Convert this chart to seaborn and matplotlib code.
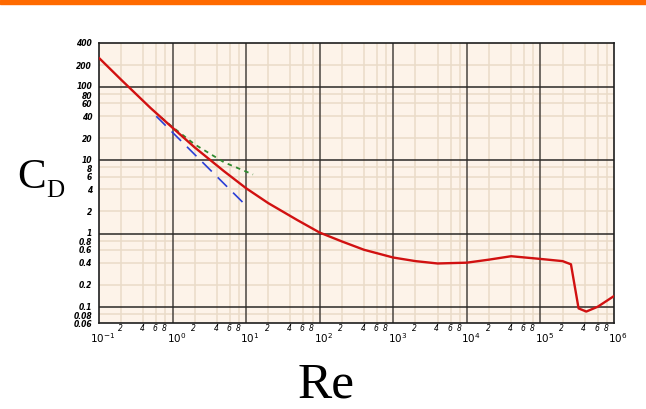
import matplotlib
matplotlib.use("Agg")
import matplotlib.pyplot as plt
import matplotlib.ticker as mticker
from matplotlib.patches import Rectangle
import matplotlib.transforms as mtransforms
import pandas as pd
import seaborn as sns

# drag coefficient of a sphere
re_drag = [0.1, 0.2, 0.5, 1, 2, 5, 10, 20, 50, 100, 200, 400, 1000, 2000,
           4000, 10000, 20000, 40000, 100000, 200000, 260000, 330000,
           420000, 600000, 1000000]
cd_drag = [250, 126, 52, 27.8, 15, 7.1, 4.15, 2.6, 1.52, 1.03, 0.78, 0.6, 0.47,
           0.42, 0.39, 0.40, 0.44, 0.49, 0.45, 0.42, 0.38, 0.095,
           0.086, 0.1, 0.14]

# Stokes law (blue dashed)
re_stokes = [0.6, 10]
cd_stokes = [40, 2.4]

# Oseen correction (green dotted)
re_oseen = [0.7, 1, 2, 5, 12.4]
cd_oseen = [38.3, 28.5, 16.5, 9.4, 6.4]

x_major = [0.1, 1, 10, 100, 1000, 10000, 100000, 1000000]
x_major_labels = [r"$\mathit{10^{-1}}$", r"$\mathit{10^{0}}$", r"$\mathit{10^{1}}$",
                  r"$\mathit{10^{2}}$", r"$\mathit{10^{3}}$", r"$\mathit{10^{4}}$",
                  r"$\mathit{10^{5}}$", r"$\mathit{10^{6}}$"]
minor_steps = [2, 4, 6, 8]
y_labels = [400, 200, 100, 80, 60, 40, 20, 10, 8, 6, 4, 2, 1, 0.8, 0.6, 0.4,
            0.2, 0.1, 0.08, 0.06]

sns.set_style("white")
plt.rcParams["font.family"] = ["DejaVu Sans"]
plt.rcParams["mathtext.fontset"] = "custom"
plt.rcParams["mathtext.it"] = "DejaVu Sans:italic"
plt.rcParams["mathtext.rm"] = "DejaVu Sans"

fig = plt.figure(figsize=(6.46, 4.09), dpi=100)
ax = fig.add_axes([99 / 646, 1 - 323 / 409, 515 / 646, 280 / 409])
ax.set_facecolor("#fdf3e9")

ax.set_xscale("log")
ax.set_yscale("log")
ax.set_xlim(0.1, 1e6)
ax.set_ylim(0.06, 400)

# grid
grid_minor = "#eadbc8"
for k in range(-1, 6):
    for m in minor_steps:
        ax.axvline(m * 10.0 ** k, color=grid_minor, lw=1.1, zorder=0)
for k in range(-2, 3):
    for m in minor_steps:
        v = m * 10.0 ** k
        if 0.06 < v < 400:
            ax.axhline(v, color=grid_minor, lw=1.1, zorder=0)
for v in x_major[1:-1]:
    ax.axvline(v, color="#4a4540", lw=1.1, zorder=1)
for v in [0.1, 1, 10, 100]:
    ax.axhline(v, color="#2a2826", lw=1.1, zorder=1)

df_drag = pd.DataFrame({"Re": re_drag, "CD": cd_drag})
df_stokes = pd.DataFrame({"Re": re_stokes, "CD": cd_stokes})
df_oseen = pd.DataFrame({"Re": re_oseen, "CD": cd_oseen})

sns.lineplot(data=df_stokes, x="Re", y="CD", ax=ax, color="#2b3fd6", lw=1.2,
             linestyle=(0, (8, 5)), zorder=3)
sns.lineplot(data=df_oseen, x="Re", y="CD", ax=ax, color="#2f8a2f", lw=1.3,
             linestyle=(0, (2.5, 2.5)), zorder=3)
sns.lineplot(data=df_drag, x="Re", y="CD", ax=ax, color="#d11111", lw=1.7,
             zorder=4)

ax.set_xlabel("")
ax.set_ylabel("")

# ticks
ax.xaxis.set_major_locator(mticker.FixedLocator(x_major))
ax.xaxis.set_major_formatter(mticker.FixedFormatter(x_major_labels))
x_minor = [m * 10.0 ** k for k in range(-1, 6) for m in minor_steps]
ax.xaxis.set_minor_locator(mticker.FixedLocator(x_minor))
ax.xaxis.set_minor_formatter(mticker.FixedFormatter(
    [str(m) for k in range(-1, 6) for m in minor_steps]))
ax.tick_params(axis="x", which="major", length=0, pad=6, labelsize=7.5,
               labelcolor="black")
ax.tick_params(axis="x", which="minor", length=0, pad=0.5, labelsize=5.5,
               labelcolor="black")
shift = mtransforms.ScaledTranslation(4 / 100, 0, fig.dpi_scale_trans)
for lbl in ax.get_xticklabels(which="major"):
    lbl.set_transform(lbl.get_transform() + shift)
back = mtransforms.ScaledTranslation(-1 / 100, 0, fig.dpi_scale_trans)
for lbl in ax.get_xticklabels(which="minor"):
    lbl.set_style("italic")
    lbl.set_transform(lbl.get_transform() + back)

ax.yaxis.set_major_locator(mticker.FixedLocator(y_labels))
ax.yaxis.set_major_formatter(mticker.FixedFormatter([f"{v:g}" for v in y_labels]))
ax.yaxis.set_minor_locator(mticker.NullLocator())
ax.tick_params(axis="y", which="major", length=0, pad=5, labelsize=5.5,
               labelcolor="black")
up = mtransforms.ScaledTranslation(0, 1.2 / 100, fig.dpi_scale_trans)
down = mtransforms.ScaledTranslation(0, -1.2 / 100, fig.dpi_scale_trans)
for lbl in ax.get_yticklabels():
    lbl.set_style("italic")
    lbl.set_weight("bold")
    txt = lbl.get_text()
    if txt in ("100", "10", "1"):
        lbl.set_transform(lbl.get_transform() + up)
    elif txt in ("80", "8", "0.8", "0.08"):
        lbl.set_transform(lbl.get_transform() + down)

for sp in ax.spines.values():
    sp.set_color("#1e1e1e")
    sp.set_linewidth(1.2)

# axis titles
fig.text(17 / 646, 1 - 188 / 409, "C", family="Liberation Serif", fontsize=31,
         va="baseline", ha="left", color="black")
fig.text(46 / 646, 1 - 197 / 409, "D", family="Liberation Serif", fontsize=18,
         va="baseline", ha="left", color="black")
fig.text(326 / 646, 1 - 397 / 409, "Re", family="Liberation Serif", fontsize=37,
         va="baseline", ha="center", color="black")

# orange bar at the top
fig.patches.append(Rectangle((0, 1 - 3.5 / 409), 1, 3.5 / 409,
                             transform=fig.transFigure, color="#ff6a00"))

fig.savefig("out.png", dpi=100)
